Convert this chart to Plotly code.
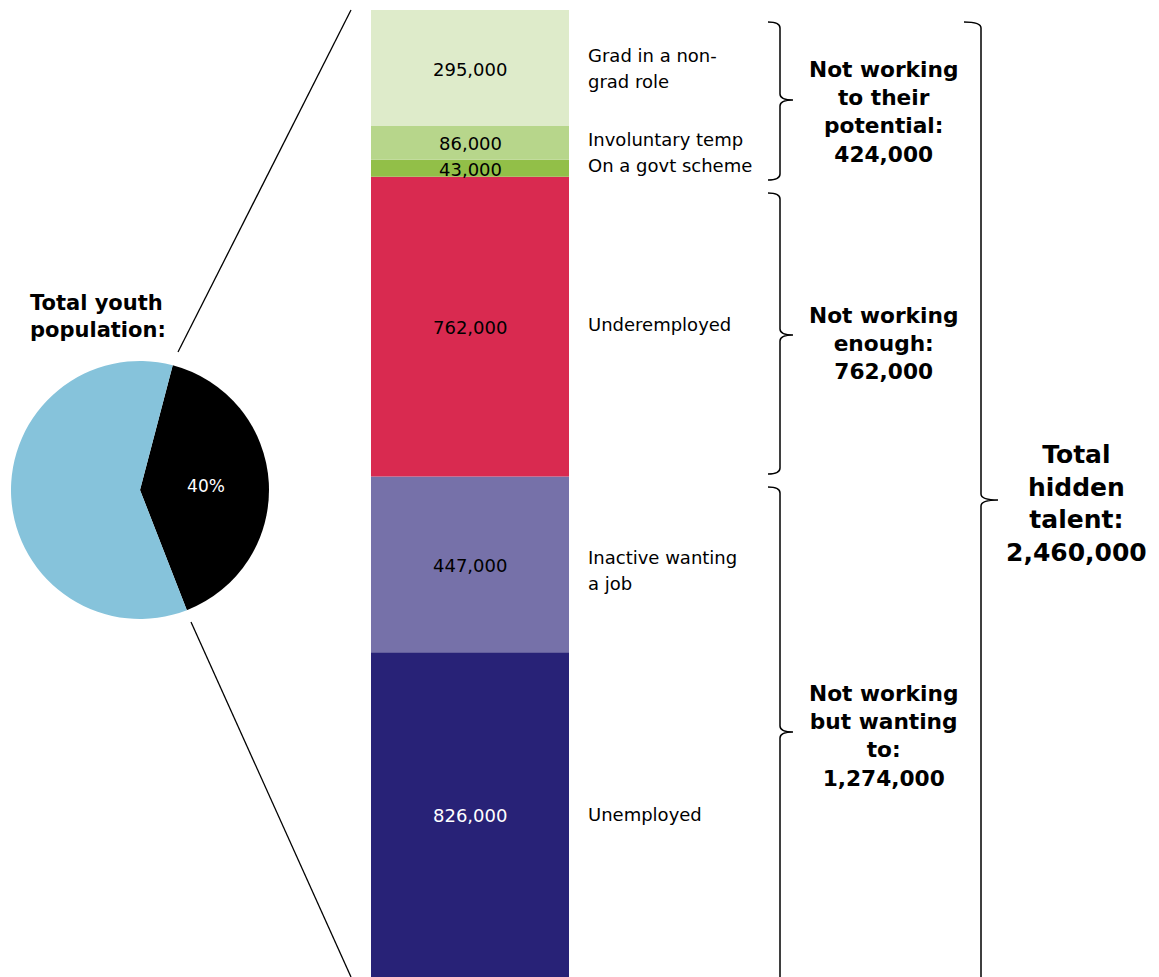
import plotly.graph_objects as go

# ---- data -----------------------------------------------------------------
segments = ["Unemployed", "Inactive wanting a job", "Underemployed",
            "On a govt scheme", "Involuntary temp", "Grad in a non-grad role"]
values_k = [826, 447, 762, 43, 86, 295]          # thousands, bottom to top
seg_colors = ["#282277", "#7671A9", "#D92A50", "#92BF48", "#B7D68B", "#DEEBCA"]
value_text_colors = ["white", "black", "black", "black", "black", "black"]

pie_labels = ["Hidden talent", "Rest of youth population"]
pie_values = [40, 60]
pie_colors = ["#000000", "#86C3DB"]

group_texts = ["Not working<br>to their<br>potential:<br>424,000",
               "Not working<br>enough:<br>762,000",
               "Not working<br>but wanting<br>to:<br>1,274,000"]
total_text = "Total<br>hidden<br>talent:<br>2,460,000"

W, H = 1159, 977
FONT = "DejaVu Sans"

# value axis: bar spans from the bottom edge up to 10 px below the top
total = sum(values_k)
px_per_unit = (H - 10) / total
y_top = H / px_per_unit


def vy(v):
    """value (thousands) -> pixel row"""
    return H - v * px_per_unit


fig = go.Figure()

# stacked bar
cum = 0
mids = {}
for name, v, c in zip(segments, values_k, seg_colors):
    fig.add_trace(go.Bar(x=[470], y=[v], base=[cum], width=[198], marker=dict(color=c, line=dict(width=0)),
                         name=name, hoverinfo="skip", showlegend=False, xaxis="x", yaxis="y"))
    mids[name] = (cum, cum + v)
    cum += v

# pie
fig.add_trace(go.Pie(labels=pie_labels, values=pie_values, marker=dict(colors=pie_colors, line=dict(width=0)),
                     sort=False, direction="clockwise", rotation=14.7,
                     texttemplate=["%{percent:.0%}", ""], textposition="inside",
                     insidetextfont=dict(color="white", size=17, family=FONT),
                     domain=dict(x=[11 / W, 269 / W], y=[1 - 620 / H, 1 - 360 / H]),
                     hoverinfo="skip", showlegend=False))

annotations = []
# values inside the bar
for name, v, tc in zip(segments, values_k, value_text_colors):
    lo, hi = mids[name]
    annotations.append(dict(x=470, y=vy((lo + hi) / 2) + 1, xref="x", yref="y2", text=f"{v * 1000:,}",
                            showarrow=False, font=dict(size=18, color=tc, family=FONT),
                            xanchor="center", yanchor="middle"))

# segment labels to the right of the bar
seg_label_lines = {
    "Grad in a non-grad role": (["Grad in a non-", "grad role"], 0),
    "Involuntary temp": (["Involuntary temp"], -3),
    "On a govt scheme": (["On a govt scheme"], -3),
    "Underemployed": (["Underemployed"], -2),
    "Inactive wanting a job": (["Inactive wanting", "a job"], 6),
    "Unemployed": (["Unemployed"], 0),
}
for name, (lines, dy) in seg_label_lines.items():
    lo, hi = mids[name]
    yc = vy((lo + hi) / 2) + dy
    n = len(lines)
    for i, ln in enumerate(lines):
        annotations.append(dict(x=586, y=yc + (i - (n - 1) / 2) * 26, xref="x", yref="y2", text=ln,
                                showarrow=False, font=dict(size=18, color="black", family=FONT),
                                xanchor="left", yanchor="middle"))

shapes = []


def brace(xv, y0, y1, ym, w, t, r=6):
    return (f"M {xv - w},{y0} Q {xv},{y0} {xv},{y0 + r} L {xv},{ym - r} "
            f"Q {xv},{ym} {xv + t},{ym} Q {xv},{ym} {xv},{ym + r} "
            f"L {xv},{y1 - r} Q {xv},{y1} {xv - w},{y1}")


brace_spans = [(22, 180, 100), (193, 474, 335), (487, 983, 732)]
text_centers = [112, 343, 736]
for label, (b0, b1, bm), tyc in zip(group_texts, brace_spans, text_centers):
    shapes.append(dict(type="path", path=brace(780, b0, b1, bm, 12, 13), xref="x", yref="y2",
                       line=dict(color="black", width=1.5)))
    annotations.append(dict(x=883, y=tyc, xref="x", yref="y2", text="<b>" + label + "</b>", showarrow=False,
                            font=dict(size=21.7, color="black", family=FONT), xanchor="center",
                            yanchor="middle", align="center"))

shapes.append(dict(type="path", path=brace(981, 22, 983, 500, 17, 17), xref="x", yref="y2",
                   line=dict(color="black", width=1.5)))
annotations.append(dict(x=1076, y=503, xref="x", yref="y2", text="<b>" + total_text + "</b>", showarrow=False,
                        font=dict(size=25, color="black", family=FONT), xanchor="center",
                        yanchor="middle", align="center"))

# pie title
annotations.append(dict(x=98, y=316, xref="x", yref="y2", text="<b>Total youth<br>population:</b>",
                        showarrow=False, font=dict(size=21, color="black", family=FONT),
                        xanchor="center", yanchor="middle", align="left"))

# connector lines from pie to bar
shapes.append(dict(type="line", x0=178, y0=352, x1=351, y1=10, xref="x", yref="y2",
                   line=dict(color="black", width=1.3)))
shapes.append(dict(type="line", x0=191, y0=622, x1=351, y1=977, xref="x", yref="y2",
                   line=dict(color="black", width=1.3)))

fig.update_layout(
    width=W, height=H, margin=dict(l=0, r=0, t=0, b=0),
    paper_bgcolor="white", plot_bgcolor="rgba(0,0,0,0)",
    barmode="overlay",
    xaxis=dict(range=[0, W], visible=False, fixedrange=True),
    yaxis=dict(range=[0, y_top], visible=False, fixedrange=True),
    yaxis2=dict(range=[H, 0], visible=False, overlaying="y", fixedrange=True),
    shapes=shapes, annotations=annotations,
    font=dict(family=FONT),
)

fig.write_html("out.html")
